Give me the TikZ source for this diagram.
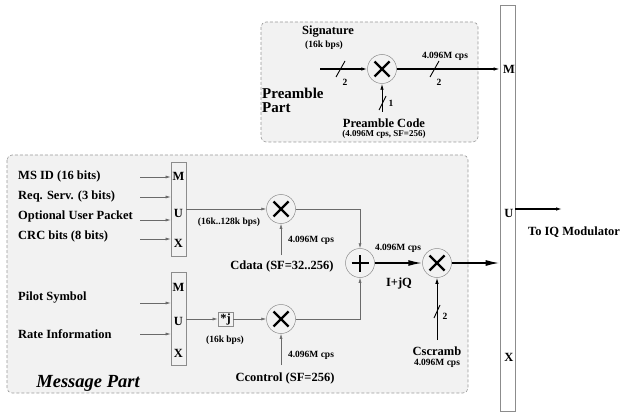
\documentclass[tikz,border=0pt]{standalone}
\usepackage{fontspec}
\setmainfont{Liberation Serif}
\usetikzlibrary{arrows.meta,calc,positioning}
\definecolor{PartFill}{HTML}{F2F2F2}
\definecolor{PartEdge}{HTML}{9A9A9A}
\definecolor{WireGray}{HTML}{6A6A6A}
\definecolor{BoxEdge}{HTML}{8C8C8C}
\tikzset{
  part box/.style={
    draw=PartEdge,
    fill=PartFill,
    dash pattern=on 3pt off 2pt,
    rounded corners=5pt,
    line width=0.6pt
  },
  mux box/.style={
    draw=BoxEdge,
    fill=PartFill,
    line width=0.7pt,
    minimum width=15pt,
    inner sep=0pt
  },
  mixer/.style={
    circle,
    draw=BoxEdge,
    fill=PartFill,
    line width=0.5pt,
    minimum size=29pt,
    inner sep=0pt,
    path picture={
      \draw[draw=black,line width=2.2pt,solid]
        ([shift={(-7.5pt,-7.5pt)}]path picture bounding box.center) -- ++(15pt,15pt)
        ([shift={(-7.5pt,7.5pt)}]path picture bounding box.center) -- ++(15pt,-15pt);
    }
  },
  adder/.style={
    circle,
    draw=BoxEdge,
    fill=PartFill,
    line width=0.5pt,
    minimum size=29pt,
    inner sep=0pt,
    path picture={
      \draw[draw=black,line width=1.3pt]
        ([shift={(-8.5pt,0pt)}]path picture bounding box.center) -- ++(17pt,0pt)
        ([shift={(0pt,-8.5pt)}]path picture bounding box.center) -- ++(0pt,17pt);
    }
  },
  sig label/.style={font=\bfseries\fontsize{12.5}{14}\selectfont,inner sep=0pt},
  rate label/.style={font=\bfseries\fontsize{9.5}{11}\selectfont,inner sep=0pt},
  part title/.style={font=\bfseries\fontsize{15}{13.5}\selectfont,inner sep=0pt,align=left},
  thin flow/.style={-{Latex[length=5pt,width=3pt]},draw=WireGray,line width=0.6pt},
  bold flow/.style={-{Latex[length=6pt,width=3.5pt]},draw=black,line width=1.1pt},
  big flow/.style={-{Latex[length=14pt,width=6pt]},draw=black,line width=1.6pt},
  bus slash/.style={draw=black,line width=0.9pt}
}

\begin{document}
\begin{tikzpicture}[x=1pt,y=-1pt]
  \useasboundingbox (0,0) rectangle (620,414);

  % the two parts
  \draw[part box] (261,22) rectangle (478,142);
  \draw[part box] (7,155) rectangle (468,393);

  % output multiplexer
  \node[mux box,fill=white,minimum height=406pt] (bigmux) at (507.5,208) {};
  \node[sig label] at (509,69) {M};
  \node[sig label] at (509,213) {U};
  \node[sig label] at (509,357) {X};

  % preamble part
  \node[mixer] (pmix) at (382,69) {};
  \coordinate (sigin) at (320,69);
  \coordinate (pcodein) at (382,112);
  \draw[bold flow] (sigin) -- (pmix);
  \draw[bold flow] (pmix) -- (pmix -| bigmux.west);
  \draw[bold flow,line width=0.9pt] (pcodein) -- (pmix);
  \draw[bus slash] (336,77) -- (345,61);
  \draw[bus slash] (430,77) -- (439,61);
  \draw[bus slash] (379,110) -- (386,96);
  \node[rate label] at (345,82) {2};
  \node[rate label] at (439,82) {2};
  \node[rate label] at (391,103) {1};
  \node[sig label] at (328,32) {Signature};
  \node[rate label] at (324,45) {(16k bps)};
  \node[rate label] at (445,56) {4.096M cps};
  \node[sig label] at (384,123) {Preamble Code};
  \node[rate label,font=\bfseries\fontsize{9}{11}\selectfont] at (384,134) {(4.096M cps, SF=256)};
  \node[part title,anchor=north west] at (262,88) {Preamble\\Part};

  % data branch
  \node[mux box,minimum height=94pt] (muxa) at (178.5,209) {};
  \node[sig label] at (178.5,176) {M};
  \node[sig label] at (178.5,213) {U};
  \node[sig label] at (178.5,243) {X};
  \coordinate (msid) at (140,177);
  \coordinate (reqserv) at (140,197);
  \coordinate (userpkt) at (140,220);
  \coordinate (crc) at (140,239);
  \draw[thin flow] (msid) -- (msid -| muxa.west);
  \draw[thin flow] (reqserv) -- (reqserv -| muxa.west);
  \draw[thin flow] (userpkt) -- (userpkt -| muxa.west);
  \draw[thin flow] (crc) -- (crc -| muxa.west);
  \node[sig label,anchor=west] at (18,176) {MS ID (16 bits)};
  \node[sig label,anchor=west] at (18,196) {Req. Serv. (3 bits)};
  \node[sig label,anchor=west] at (18,216) {Optional User Packet};
  \node[sig label,anchor=west] at (18,236) {CRC bits (8 bits)};

  \node[mixer] (dmix) at (281,209) {};
  \coordinate (cdatain) at (281,255);
  \draw[thin flow] (muxa.east |- dmix) -- (dmix);
  \draw[thin flow] (cdatain) -- (dmix);
  \node[rate label] at (229,222) {(16k..128k bps)};
  \node[rate label] at (311,240) {4.096M cps};
  \node[sig label] at (282,266) {Cdata (SF=32..256)};

  % control branch
  \node[mux box,minimum height=93pt] (muxb) at (178.5,318.5) {};
  \node[sig label] at (178.5,287) {M};
  \node[sig label] at (178.5,321) {U};
  \node[sig label] at (178.5,353) {X};
  \coordinate (pilot) at (140,303);
  \coordinate (rateinfo) at (140,334);
  \draw[thin flow] (pilot) -- (pilot -| muxb.west);
  \draw[thin flow] (rateinfo) -- (rateinfo -| muxb.west);
  \node[sig label,anchor=west] at (18,298) {Pilot Symbol};
  \node[sig label,anchor=west] at (18,334) {Rate Information};

  \node[mux box,minimum width=15pt,minimum height=14pt,sig label] (jmul) at (225.5,319) {*j};
  \node[mixer] (cmix) at (281,319) {};
  \coordinate (cctrlin) at (281,365);
  \draw[thin flow] (muxb.east |- jmul) -- (jmul);
  \draw[thin flow] (jmul) -- (cmix);
  \draw[thin flow] (cctrlin) -- (cmix);
  \node[rate label] at (225,340) {(16k bps)};
  \node[rate label] at (311,355) {4.096M cps};
  \node[sig label] at (285,378) {Ccontrol (SF=256)};

  % combining and scrambling
  \node[adder] (iqsum) at (360,263) {};
  \node[mixer] (smix) at (437,263) {};
  \coordinate (cscrambin) at (437,340);
  \draw[thin flow] (dmix) -| (iqsum);
  \draw[thin flow] (cmix) -| (iqsum);
  \draw[big flow] (iqsum) -- (smix);
  \draw[big flow] (smix) -- (smix -| bigmux.west);
  \draw[bold flow,line width=0.9pt] (cscrambin) -- (smix);
  \draw[bus slash] (434,318) -- (440,305);
  \node[rate label] at (445,316) {2};
  \node[rate label] at (398,248) {4.096M cps};
  \node[sig label] at (399,283) {I+jQ};
  \node[sig label] at (437,351) {Cscramb};
  \node[rate label] at (437,363) {4.096M cps};
  \node[font=\bfseries\itshape\fontsize{18.5}{20}\selectfont,inner sep=0pt] at (88,383) {Message Part};

  % to the modulator
  \coordinate (iqout) at (562,209);
  \draw[bold flow] (bigmux.east |- iqout) -- (iqout);
  \node[sig label] at (574,232) {To IQ Modulator};
\end{tikzpicture}
\end{document}
